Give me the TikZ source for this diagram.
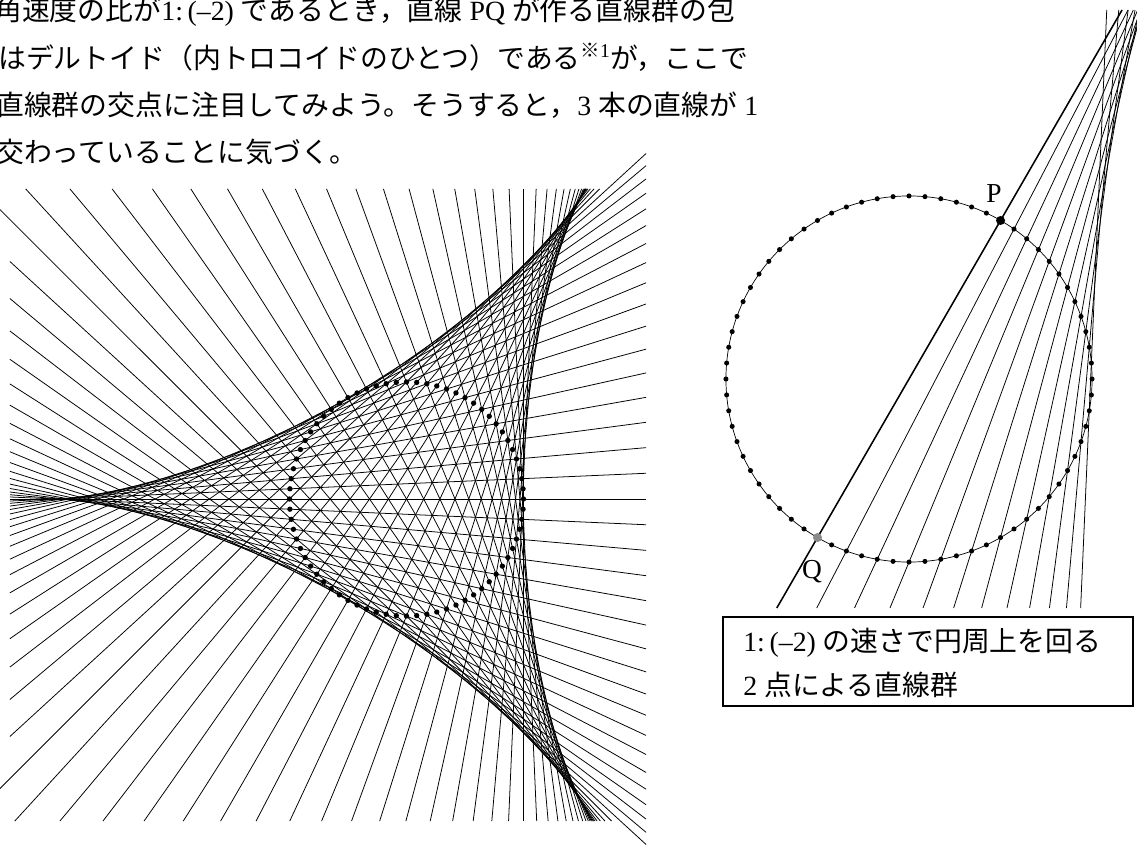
\documentclass[tikz,border=0pt]{standalone}
\usepackage{fontspec}
\setmainfont{Liberation Serif}
\newfontfamily\jp{Noto Sans CJK JP}
\usetikzlibrary{positioning}
\definecolor{ink}{HTML}{000000}
\definecolor{qgray}{HTML}{8A8A8A}

\begin{document}
\begin{tikzpicture}[x=0.025cm, y=-0.025cm,
  chord/.style={ink, line width=0.55pt},
  pqline/.style={ink, line width=1.1pt},
  txt/.style={font=\fontsize{19.8pt}{24pt}\selectfont, inner sep=0pt, anchor=base west},
  lbl/.style={font=\fontsize{19.5pt}{24pt}\selectfont, inner sep=0pt, anchor=base}]
  \useasboundingbox (0,0) rectangle (1137,848);
  \clip (0,0) rectangle (1137,848);

  % Paragraph, cut at the left edge
  \node[txt] (row1) at (-6,21) {{\jp 角速度の比が}1:\,(–2) {\jp であるとき，直線} PQ {\jp が作る直線群の包}};
  \node[txt] (row2) at (-2,68) {{\jp はデルトイド（内トロコイドのひとつ）である}\textsuperscript{{\jp ※}1}{\jp が，ここで}};
  \node[txt] (row3) at (-4,115) {{\jp 直線群の交点に注目してみよう。そうすると，}3 {\jp 本の直線が} 1};
  \node[txt] (row4) at (-4,162) {{\jp 交わっていることに気づく。}};

  % Left: the 72 chords, t = 0,5,...,355
  \begin{scope}[shift={(406.5,499)}, x=2.925cm, y=2.925cm]
    \def\xlo{-3.389}\def\xhi{2.047}\def\ylo{-2.752}\def\yhi{2.650}
    \foreach \k in {0,...,71} {
      \pgfmathsetmacro\ha{2.5*\k}
      \pgfmathsetmacro\cc{cos(7.5*\k)}
      \pgfmathsetmacro\nx{cos(\ha)}
      \pgfmathsetmacro\ny{-sin(\ha)}
      \pgfmathsetmacro\sh{abs(\ny)-abs(\nx)}
      \ifdim\sh pt>0pt
        \pgfmathsetmacro\ya{((\cc)-(\xlo)*(\nx))/(\ny)}
        \pgfmathsetmacro\yb{((\cc)-(\xhi)*(\nx))/(\ny)}
        \draw[chord] (\xlo,\ya) -- (\xhi,\yb);
      \else
        \pgfmathsetmacro\xa{((\cc)-(\ylo)*(\ny))/(\nx)}
        \pgfmathsetmacro\xb{((\cc)-(\yhi)*(\ny))/(\nx)}
        \draw[chord] (\xa,\ylo) -- (\xb,\yhi);
      \fi
    }
    % points on the circle
    \foreach \a in {0,5,...,355}
      \fill[ink] (\a:1) circle (1.9pt);
  \end{scope}

  % Right: chords for t = 5,...,55 and the line PQ
  \begin{scope}[shift={(909,379)}, x=4.575cm, y=4.575cm]
    \def\ylo{-1.251}\def\yhi{2.016}
    \foreach \k in {1,...,11} {
      \pgfmathsetmacro\ha{2.5*\k}
      \pgfmathsetmacro\cc{cos(7.5*\k)}
      \pgfmathsetmacro\xa{((\cc)+(\ylo)*sin(\ha))/cos(\ha)}
      \pgfmathsetmacro\xb{((\cc)+(\yhi)*sin(\ha))/cos(\ha)}
      \draw[chord] (\xa,\ylo) -- (\xb,\yhi);
    }
    \coordinate (P) at (60:1);
    \coordinate (Q) at (-120:1);
    \draw[pqline, shorten <=-2.034cm, shorten >=-6.075cm] (Q) -- (P);

    \draw[ink, line width=0.5pt] (0,0) circle (1);
    \foreach \a in {0,5,...,355}
      \fill[ink] (\a:1) circle (1.8pt);
    \fill[ink] (P) circle (3.2pt);
    \fill[qgray] (Q) circle (3.2pt);
  \end{scope}

  \node[lbl] (labP) at (994,202) {P};
  \node[lbl] (labQ) at (812,578) {Q};

  % Caption box
  \coordinate (boxnw) at (723,617);
  \coordinate (boxse) at (1133,706);
  \draw[ink, line width=1pt] (boxnw) rectangle (boxse);
  \node[txt] (cap1) at (743,651) {1:\,(–2) {\jp の速さで円周上を回る}};
  \node[txt] (cap2) at (743,695) {2 {\jp 点による直線群}};
\end{tikzpicture}
\end{document}
